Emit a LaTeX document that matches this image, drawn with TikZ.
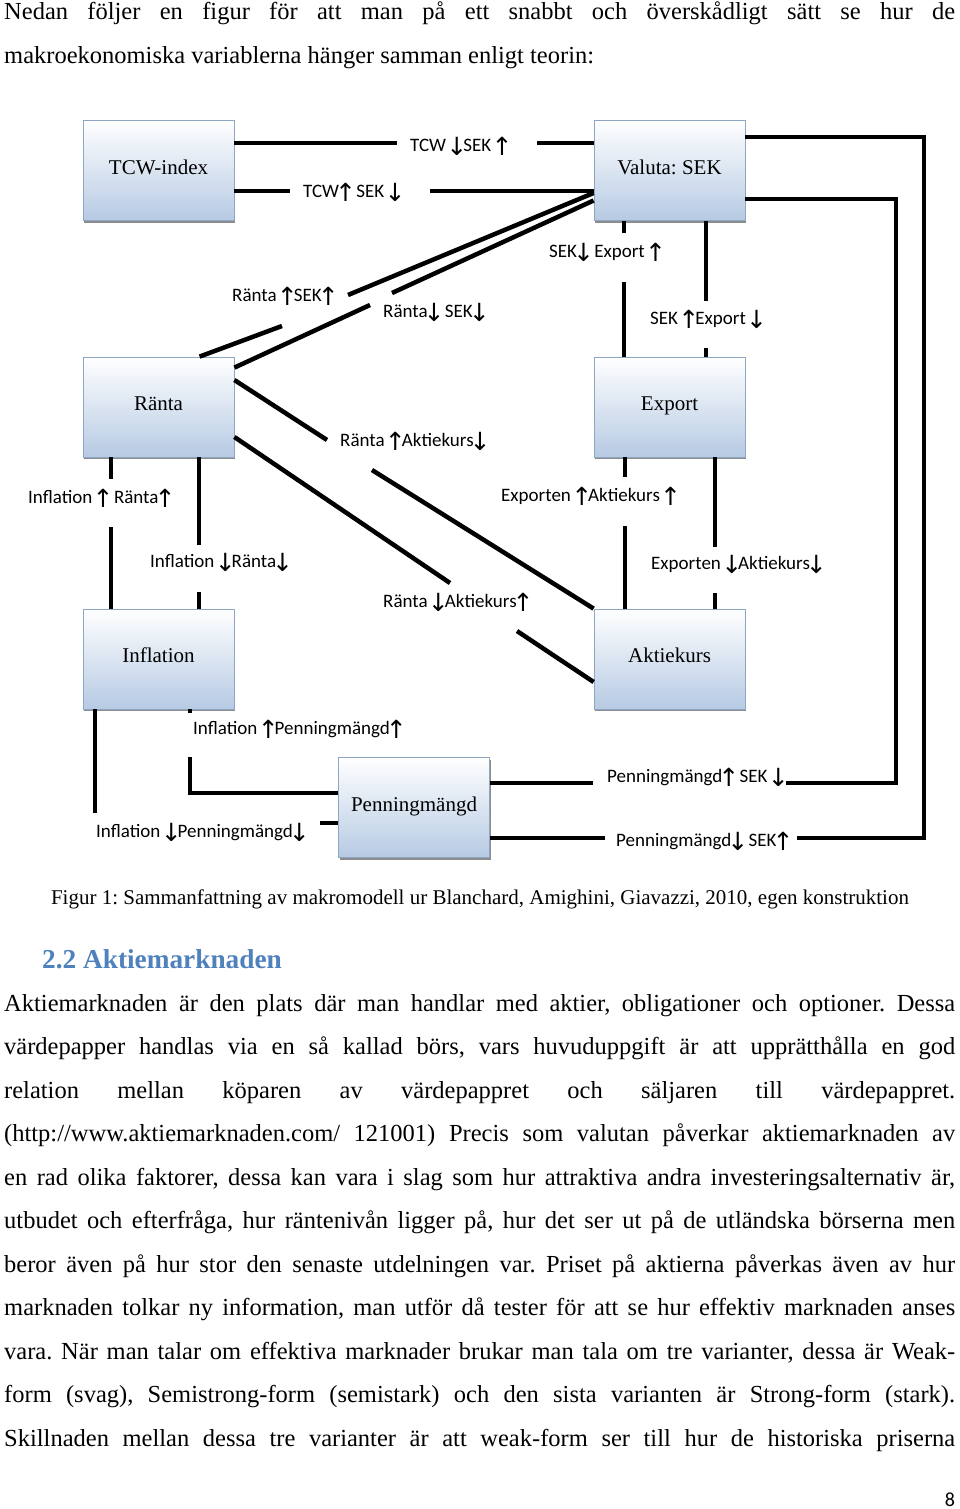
\documentclass[tikz,border=0pt]{standalone}
\usepackage{fontspec}
\setmainfont{Liberation Serif}
\newfontfamily\lblfont{Carlito}
\newfontfamily\arrfont{DejaVu Sans}
\usetikzlibrary{shadows,calc}
\definecolor{boxblue}{RGB}{182,202,227}
\definecolor{boxedge}{RGB}{141,166,196}
\definecolor{headblue}{RGB}{79,129,189}
\newcommand{\myup}{\makebox[13pt]{\raisebox{-4pt}{\arrfont\fontsize{25}{25}\selectfont\char"2191}}}
\newcommand{\mydn}{\makebox[13pt]{\raisebox{-4pt}{\arrfont\fontsize{25}{25}\selectfont\char"2193}}}
\newcommand{\bodyline}[1]{\spaceskip=0.25em plus 0.6em minus 0.13em\makebox[951pt][s]{#1}}
\frenchspacing
\begin{document}
\begin{tikzpicture}[x=1pt,y=-1pt,
  box/.style={draw=boxedge, line width=0.8pt, top color=white, bottom color=boxblue,
     minimum width=151pt, minimum height=100pt, inner sep=0pt,
     font=\fontsize{21}{24}\selectfont,
     drop shadow={shadow xshift=1.2pt, shadow yshift=-2.4pt, fill=black, opacity=0.45}},
  conn/.style={line width=4.5pt, line join=miter},
  lbl/.style={anchor=west, inner sep=0pt, font=\lblfont\fontsize{19}{21}\selectfont},
  body/.style={anchor=base west, inner sep=0pt, font=\fontsize{24.5}{29}\selectfont}
]
\useasboundingbox (0,0) rectangle (960,1509);
\fill[white] (0,0) rectangle (960,1509);

% ---------- text above ----------
\node[body] (t1) at (4,20) {\bodyline{Nedan följer en figur för att man på ett snabbt och överskådligt sätt se hur de}};
\node[body] (t2) at (4,63.5) {makroekonomiska variablerna hänger samman enligt teorin:};

% ---------- boxes ----------
\node[box] (tcw)   at (158.5,170.5) {\raisebox{7pt}{TCW-index}};
\node[box] (val)   at (669.5,170.5) {\raisebox{7pt}{Valuta: SEK}};
\node[box] (ranta) at (158.5,407)   {\raisebox{7pt}{Ränta}};
\node[box] (exp)   at (669.5,407)   {\raisebox{7pt}{Export}};
\node[box] (infl)  at (158.5,659)   {\raisebox{7pt}{Inflation}};
\node[box] (akt)   at (669.5,659)   {\raisebox{7pt}{Aktiekurs}};
\node[box] (pen)   at (414,807.5)   {\raisebox{7pt}{Penningmängd}};

% ---------- gap coordinates ----------
\coordinate (c1a) at (397,143); \coordinate (c1b) at (537,143);
\coordinate (c2a) at (290,191); \coordinate (c2b) at (430,191);
\coordinate (c3a) at (348,295); \coordinate (c3b) at (282,326);
\coordinate (c4a) at (392,293); \coordinate (c4b) at (370,305);
\coordinate (c5a) at (327,440); \coordinate (c5b) at (372,470);
\coordinate (c6a) at (450,583); \coordinate (c6b) at (517,631);
\coordinate (c7a) at (624,233); \coordinate (c7b) at (624,282);
\coordinate (c8a) at (706,301); \coordinate (c8b) at (706,348);
\coordinate (c9a) at (625,477); \coordinate (c9b) at (625,526);
\coordinate (c10a) at (715,547); \coordinate (c10b) at (715,593);
\coordinate (c11a) at (111,479); \coordinate (c11b) at (111,527);
\coordinate (c12a) at (199,545); \coordinate (c12b) at (199,592);
\coordinate (c13a) at (190,713); \coordinate (c13b) at (190,757);
\coordinate (c14a) at (95,813);  \coordinate (c14b) at (320,823);
\coordinate (c15k) at (896,783); \coordinate (c15a) at (786,783); \coordinate (c15b) at (593,783);
\coordinate (c16k) at (924,838); \coordinate (c16a) at (797,838); \coordinate (c16b) at (605,838);

% ---------- connectors ----------
\draw[conn] (tcw.east |- c1a) -- (c1a);
\draw[conn] (c1b) -- (val.west |- c1b);
\draw[conn] (tcw.east |- c2a) -- (c2a);
\draw[conn] (c2b) -- (val.west |- c2b);

\draw[conn] ($(val.west)+(0,22.5)$) -- (c3a);
\draw[conn] (c3b) -- ($(ranta.north west)+(117,0)$);
\draw[conn] ($(val.west)+(0,30)$) -- (c4a);
\draw[conn] (c4b) -- ($(ranta.north east)+(0,11)$);

\draw[conn] ($(ranta.east)+(0,-27)$) -- (c5a);
\draw[conn] (c5b) -- (akt.north west);
\draw[conn] ($(ranta.east)+(0,30)$) -- (c6a);
\draw[conn] (c6b) -- ($(akt.west)+(0,23)$);

\draw[conn] (val.south -| c7a) -- (c7a);
\draw[conn] (c7b) -- (exp.north -| c7b);
\draw[conn] (val.south -| c8a) -- (c8a);
\draw[conn] (c8b) -- (exp.north -| c8b);

\draw[conn] (exp.south -| c9a) -- (c9a);
\draw[conn] (c9b) -- (akt.north -| c9b);
\draw[conn] (exp.south -| c10a) -- (c10a);
\draw[conn] (c10b) -- (akt.north -| c10b);

\draw[conn] (ranta.south -| c11a) -- (c11a);
\draw[conn] (c11b) -- (infl.north -| c11b);
\draw[conn] (ranta.south -| c12a) -- (c12a);
\draw[conn] (c12b) -- (infl.north -| c12b);

\draw[conn] (infl.south -| c13a) -- (c13a);
\draw[conn] (c13b) |- ($(pen.west)+(0,-14.5)$);
\draw[conn] (infl.south -| c14a) -- (c14a);
\draw[conn] (c14b) -- (pen.west |- c14b);

\draw[conn] ($(val.east)+(0,28.5)$) -| (c15k) -- (c15a);
\draw[conn] (c15b) -- (pen.east |- c15b);
\draw[conn] ($(val.east)+(0,-33.5)$) -| (c16k) -- (c16a);
\draw[conn] (c16b) -- (pen.east |- c16b);

% ---------- connector labels ----------
\node[lbl] (l1)  at (410,146) {TCW \mydn{}SEK \myup};
\node[lbl] (l2)  at (303,192) {TCW\myup{} SEK \mydn};
\node[lbl] (l3)  at (232,296) {Ränta \myup{}SEK\myup};
\node[lbl] (l4)  at (383,312) {Ränta\mydn{} SEK\mydn};
\node[lbl] (l5)  at (549,252) {SEK\mydn{} Export \myup};
\node[lbl] (l6)  at (650,319) {SEK \myup{}Export \mydn};
\node[lbl] (l7)  at (340,441) {Ränta \myup{}Aktiekurs\mydn};
\node[lbl] (l8)  at (501,496) {Exporten \myup{}Aktiekurs \myup};
\node[lbl] (l9)  at (28,498)  {Inflation \myup{}\ Ränta\myup};
\node[lbl] (l10) at (150,562) {Inflation \mydn{}Ränta\mydn};
\node[lbl] (l11) at (651,564) {Exporten \mydn{}Aktiekurs\mydn};
\node[lbl] (l12) at (383,602) {Ränta \mydn{}Aktiekurs\myup};
\node[lbl] (l13) at (193,729) {Inflation \myup{}Penningmängd\myup};
\node[lbl] (l14) at (96,832)  {Inflation \mydn{}Penningmängd\mydn};
\node[lbl] (l15) at (607,777) {Penningmängd\myup{} SEK \mydn};
\node[lbl] (l16) at (616,841) {Penningmängd\mydn{} SEK\myup};

% ---------- caption, heading, body ----------
\node[anchor=base, inner sep=0pt, font=\fontsize{21}{25}\selectfont] (cap) at (480,904)
  {Figur 1: Sammanfattning av makromodell ur Blanchard, Amighini, Giavazzi, 2010, egen konstruktion};
\node[anchor=base west, inner sep=0pt, text=headblue, font=\bfseries\fontsize{27.3}{32}\selectfont] (head) at (42,968)
  {2.2 Aktiemarknaden};

\node[body] (b1)  at (4,1011)   {\bodyline{Aktiemarknaden är den plats där man handlar med aktier, obligationer och optioner. Dessa}};
\node[body] (b2)  at (4,1054.5) {\bodyline{värdepapper handlas via en så kallad börs, vars huvuduppgift är att upprätthålla en god}};
\node[body] (b3)  at (4,1098)   {\bodyline{relation mellan köparen av värdepappret och säljaren till värdepappret.}};
\node[body] (b4)  at (4,1141.5) {\bodyline{(http://www.aktiemarknaden.com/ 121001) Precis som valutan påverkar aktiemarknaden av}};
\node[body] (b5)  at (4,1185)   {\bodyline{en rad olika faktorer, dessa kan vara i slag som hur attraktiva andra investeringsalternativ är,}};
\node[body] (b6)  at (4,1228.5) {\bodyline{utbudet och efterfråga, hur räntenivån ligger på, hur det ser ut på de utländska börserna men}};
\node[body] (b7)  at (4,1272)   {\bodyline{beror även på hur stor den senaste utdelningen var. Priset på aktierna påverkas även av hur}};
\node[body] (b8)  at (4,1315.5) {\bodyline{marknaden tolkar ny information, man utför då tester för att se hur effektiv marknaden anses}};
\node[body] (b9)  at (4,1359)   {\bodyline{vara. När man talar om effektiva marknader brukar man tala om tre varianter, dessa är Weak-}};
\node[body] (b10) at (4,1402.5) {\bodyline{form (svag), Semistrong-form (semistark) och den sista varianten är Strong-form (stark).}};
\node[body] (b11) at (4,1446)   {\bodyline{Skillnaden mellan dessa tre varianter är att weak-form ser till hur de historiska priserna}};

\node[inner sep=0pt, font=\lblfont\fontsize{20}{24}\selectfont] (pg) at (950,1500) {8};
\end{tikzpicture}
\end{document}
